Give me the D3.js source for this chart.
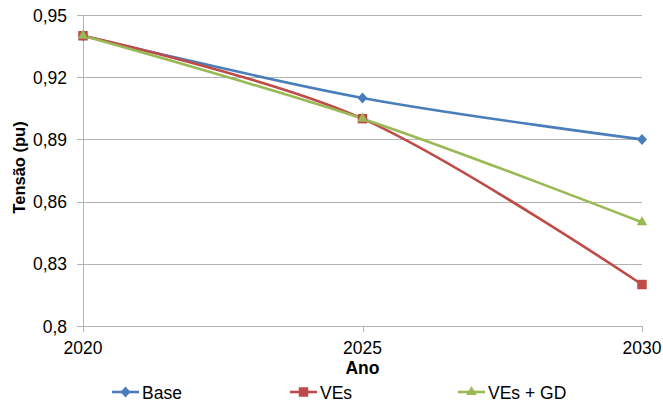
<!DOCTYPE html>
<html>
<head>
<meta charset="utf-8">
<script src="https://cdn.jsdelivr.net/npm/d3@7"></script>
<style>
  html, body { margin: 0; padding: 0; background: #fff; }
  svg { display: block; }
  svg text { font-family: "Liberation Sans", Arial, sans-serif; }
</style>
</head>
<body>
<svg id="chart" width="663" height="407"></svg>
<script>
// Years on the horizontal axis
const years = ["2020", "2025", "2030"];
// Voltage (pu) per scenario
const baseValues = [0.94, 0.91, 0.89];
const vesValues = [0.94, 0.90, 0.82];
const vesGdValues = [0.94, 0.90, 0.85];
const seriesNames = ["Base", "VEs", "VEs + GD"];
const yTicks = [0.8, 0.83, 0.86, 0.89, 0.92, 0.95];

const series = [
  { name: seriesNames[0], values: baseValues, color: "#4A7EBB", marker: "diamond" },
  { name: seriesNames[1], values: vesValues, color: "#BE4B48", marker: "square" },
  { name: seriesNames[2], values: vesGdValues, color: "#98B954", marker: "triangle" }
];

const svg = d3.select("#chart");
const plotL = 83, plotR = 642, plotT = 15, plotB = 326;
const fs = 17.5;

const x = d3.scalePoint().domain(years).range([plotL, plotR]);
const y = d3.scaleLinear().domain([0.8, 0.95]).range([plotB, plotT]);
const fmt = v => d3.format(".2~f")(v).replace(".", ",");

// horizontal gridlines with outward tick stubs
const grid = svg.append("g");
yTicks.forEach(t => {
  grid.append("line")
    .attr("x1", plotL - 6).attr("x2", plotR)
    .attr("y1", Math.round(y(t)) + 0.5).attr("y2", Math.round(y(t)) + 0.5)
    .attr("stroke", "#B3B3B3").attr("stroke-width", 1);
  svg.append("text")
    .attr("x", 67).attr("y", y(t) + 6.5)
    .attr("text-anchor", "end")
    .attr("font-size", fs).attr("fill", "#000")
    .text(fmt(t));
});

// vertical axis line
svg.append("line")
  .attr("x1", plotL + 0.5).attr("x2", plotL + 0.5)
  .attr("y1", plotT).attr("y2", plotB + 6)
  .attr("stroke", "#B3B3B3").attr("stroke-width", 1);

// x ticks and labels
years.forEach(yr => {
  const px = Math.round(x(yr)) + 0.5;
  svg.append("line")
    .attr("x1", px).attr("x2", px)
    .attr("y1", plotB).attr("y2", plotB + 6)
    .attr("stroke", "#B3B3B3");
  svg.append("text")
    .attr("x", x(yr)).attr("y", 354)
    .attr("text-anchor", "middle")
    .attr("font-size", fs).attr("fill", "#000")
    .text(yr);
});

// axis titles
svg.append("text")
  .attr("x", x(years[1])).attr("y", 374)
  .attr("text-anchor", "middle")
  .attr("font-size", fs).attr("font-weight", "bold")
  .text("Ano");
svg.append("text")
  .attr("transform", `translate(25,${(plotT + plotB) / 2 - 3}) rotate(-90)`)
  .attr("text-anchor", "middle")
  .attr("font-size", 16.5).attr("font-weight", "bold")
  .text("Tensão (pu)");

// smoothed lines
const line = d3.line()
  .x((d, i) => x(years[i]))
  .y(d => y(d))
  .curve(d3.curveCardinal.tension(0));

function markerPath(kind) {
  if (kind === "diamond") return "M0,-5.5L5,0L0,5.5L-5,0Z";
  if (kind === "square") return d3.symbol(d3.symbolSquare, 90)();
  return d3.symbol(d3.symbolTriangle, 48)();
}

series.forEach(s => {
  svg.append("path")
    .datum(s.values)
    .attr("d", line)
    .attr("fill", "none")
    .attr("stroke", s.color)
    .attr("stroke-width", 2.6)
    .attr("stroke-linejoin", "round");
});
series.forEach(s => {
  svg.append("g").selectAll("path")
    .data(s.values)
    .join("path")
    .attr("d", markerPath(s.marker))
    .attr("transform", (d, i) => `translate(${x(years[i])},${y(d)})`)
    .attr("fill", s.color);
});

// legend
const legendPos = [112, 290, 458];
series.forEach((s, i) => {
  const lx = legendPos[i], ly = 392;
  svg.append("line")
    .attr("x1", lx).attr("x2", lx + 27)
    .attr("y1", ly).attr("y2", ly)
    .attr("stroke", s.color).attr("stroke-width", 2.6);
  svg.append("path")
    .attr("d", markerPath(s.marker))
    .attr("transform", `translate(${lx + 13.5},${ly})`)
    .attr("fill", s.color);
  svg.append("text")
    .attr("x", lx + 30).attr("y", ly + 6.5)
    .attr("font-size", fs).attr("fill", "#000")
    .text(s.name);
});
</script>
</body>
</html>
